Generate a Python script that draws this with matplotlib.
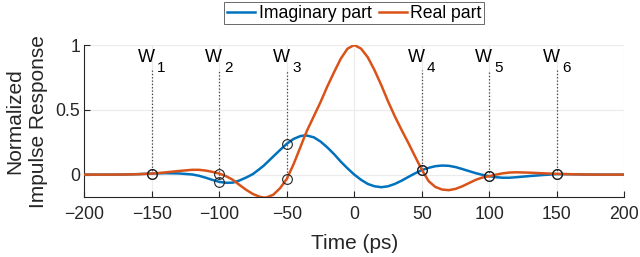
import matplotlib
matplotlib.use("Agg")
import matplotlib.pyplot as plt
import numpy as np

plt.rcParams['font.family'] = ['Liberation Sans', 'DejaVu Sans']

# Time axis (ps) and the two responses.
t = [-200, -190, -180, -170, -160, -150, -140, -130, -120, -115, -110, -105,
     -100, -95, -90, -85, -80, -75, -70, -67, -65, -60, -55, -50, -45, -40,
     -37, -35, -30, -25, -20, -15, -10, -5, 0, 5, 10, 15, 20, 25, 30, 35, 40,
     45, 50, 55, 60, 65, 70, 75, 80, 85, 90, 95, 100, 105, 110, 115, 120, 130,
     140, 150, 160, 170, 180, 190, 200]
real_part = [0.0, 0.0, 0.0, 0.001, 0.003, 0.008, 0.017, 0.028, 0.037, 0.037,
             0.031, 0.021, 0.008, -0.012, -0.04, -0.08, -0.118, -0.15, -0.171,
             -0.177, -0.176, -0.155, -0.105, -0.033, 0.08, 0.21, 0.29, 0.34,
             0.45, 0.56, 0.68, 0.79, 0.895, 0.972, 1.0, 0.972, 0.905, 0.805,
             0.69, 0.565, 0.45, 0.345, 0.245, 0.14, 0.038, -0.05, -0.095,
             -0.115, -0.12, -0.11, -0.09, -0.065, -0.04, -0.022, -0.012, 0.0,
             0.01, 0.016, 0.018, 0.015, 0.01, 0.006, 0.003, 0.001, 0.0, 0.0, 0.0]
imag_part = [0.0, 0.0, 0.0, 0.001, 0.004, 0.008, 0.011, 0.009, 0.001, -0.009,
             -0.024, -0.041, -0.056, -0.063, -0.062, -0.045, -0.022, 0.005,
             0.045, 0.07, 0.09, 0.14, 0.19, 0.238, 0.275, 0.297, 0.302, 0.301,
             0.288, 0.255, 0.21, 0.158, 0.1, 0.048, 0.0, -0.04, -0.072, -0.09,
             -0.097, -0.09, -0.072, -0.047, -0.018, 0.01, 0.035, 0.052, 0.065,
             0.07, 0.068, 0.058, 0.043, 0.027, 0.011, -0.002, -0.012, -0.02,
             -0.024, -0.024, -0.02, -0.011, -0.003, 0.004, 0.003, 0.001, 0.0,
             0.0, 0.0]

# Sampling instants
w_pos = [-150, -100, -50, 50, 100, 150]
w_labels = ['1', '2', '3', '4', '5', '6']

fig = plt.figure(figsize=(6.4, 2.57), dpi=100)
ax = fig.add_axes([0.1317, 0.2323, 0.8438, 0.5926])

blue = '#0072BD'
orange = '#D95319'
dark = '#262626'

ax.plot(t, imag_part, color=blue, lw=1.8, label='Imaginary part', zorder=3)
ax.plot(t, real_part, color=orange, lw=1.8, label='Real part', zorder=3)

for p, lab in zip(w_pos, w_labels):
    i = t.index(p)
    lo = min(real_part[i], imag_part[i])
    ax.plot([p, p], [lo, 0.805], color='#404040', ls=':', lw=0.9, zorder=2)
    ax.plot([p, p], [real_part[i], imag_part[i]], ls='none', marker='o',
            ms=7, mfc='none', mec='#222222', mew=0.8, zorder=4)
    # W with a MATLAB-style low subscript
    ax.annotate('W', xy=(p, 0.87), xytext=(2.2, 0), textcoords='offset points',
                ha='right', va='baseline', fontsize=13, color='k')
    ax.annotate(lab, xy=(p, 0.87), xytext=(3.8, -7.2),
                textcoords='offset points', ha='left', va='baseline',
                fontsize=11, color='k')

ax.set_xlim(-200, 200)
ax.set_ylim(-0.175, 1.0)
ax.set_xticks(np.arange(-200, 201, 50))
ax.set_yticks([0, 0.5, 1])
ax.set_yticklabels(['0', '0.5', '1'])
ax.grid(True, color='#ebebeb', lw=0.8)
ax.set_axisbelow(True)
for s in ['top', 'right']:
    ax.spines[s].set_visible(False)
for s in ['left', 'bottom']:
    ax.spines[s].set_color(dark)
    ax.spines[s].set_linewidth(0.8)
ax.tick_params(direction='in', length=4, colors=dark, labelsize=12.7,
               labelcolor=dark)
ax.tick_params(axis='x', pad=6.5)
ax.tick_params(axis='y', pad=3)

ax.set_xlabel('Time (ps)', fontsize=15, color=dark, labelpad=8)
ax.set_ylabel('Normalized\nImpulse Response', fontsize=15, color=dark,
              linespacing=1.35, labelpad=5)

leg = ax.legend(loc='upper center', bbox_to_anchor=(0.5, 1.282), ncol=2,
                fontsize=12.7, frameon=True, fancybox=False, edgecolor=dark,
                handlelength=1.6, handletextpad=0.2, columnspacing=0.4,
                borderpad=0.15, borderaxespad=0.0)
leg.get_frame().set_linewidth(0.6)

fig.savefig('out.png', dpi=100)
